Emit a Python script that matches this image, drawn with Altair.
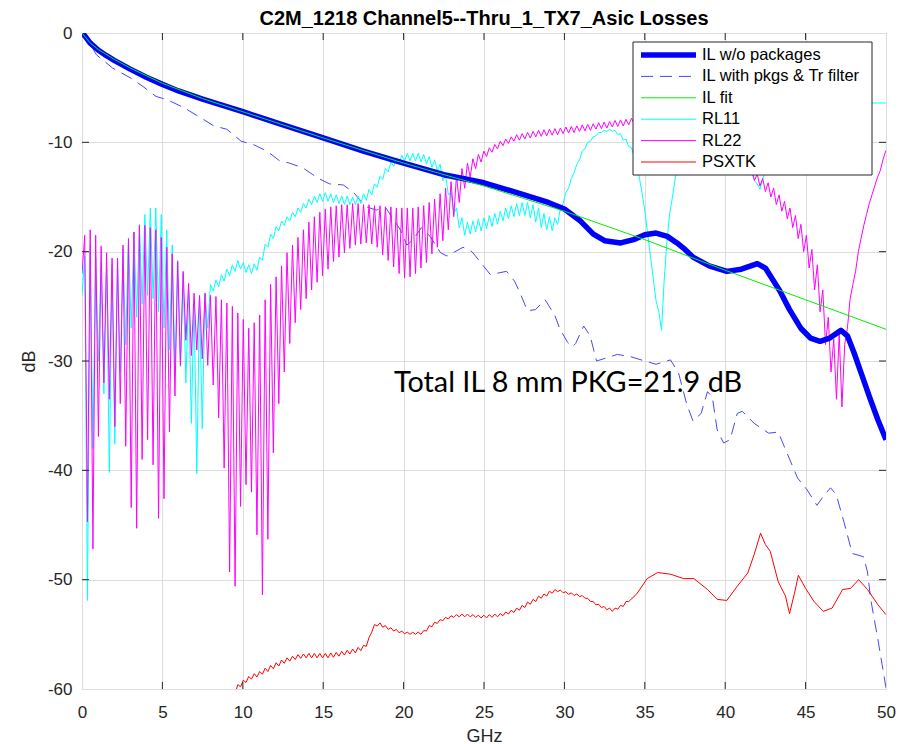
import altair as alt
import pandas as pd

FONT = "Liberation Sans"
NOTE_FONT = "Lato"
INK = "#262626"

TITLE = "C2M_1218 Channel5--Thru_1_TX7_Asic Losses"
NOTE = "Total IL 8 mm PKG=21.9 dB"
NOTE_GHZ = [19.4]
NOTE_DB = [-32.8]

X_TICKS = [0, 5, 10, 15, 20, 25, 30, 35, 40, 45, 50]
Y_TICKS = [-60, -50, -40, -30, -20, -10, 0]

LEGEND_LABELS = ["IL w/o packages", "IL with pkgs & Tr filter", "IL fit",
                 "RL11", "RL22", "PSXTK"]

# ---- insertion loss without packages ----
IL_GHZ = [0, 0.2, 0.5, 1, 1.5, 2, 3, 4, 5, 6, 7.5, 10, 12.5, 15, 17.5, 20, 22.5,
          24, 25, 27.5, 29, 30, 31, 31.8, 32.5, 33.5, 34.3, 35, 35.7, 36.4, 37,
          37.5, 38, 39, 40.1, 41, 42, 42.5, 43.4, 44, 44.7, 45.3, 45.9, 46.5,
          47.2, 47.6, 48, 48.5, 49, 49.5, 50]
IL_DB = [0, -0.3, -0.9, -1.55, -2.05, -2.5, -3.3, -4.05, -4.7, -5.3, -6.05, -7.2,
         -8.4, -9.6, -10.8, -11.9, -12.96, -13.4, -13.7, -14.8, -15.5, -16.1,
         -17.2, -18.4, -19.0, -19.2, -18.9, -18.45, -18.3, -18.6, -19.2, -19.8,
         -20.5, -21.3, -21.8, -21.6, -21.1, -21.5, -23.6, -25.3, -27.0, -27.9,
         -28.2, -27.9, -27.2, -27.7, -29.2, -31.3, -33.4, -35.4, -37.2]

# ---- insertion loss with packages and Tr filter ----
PKG_GHZ = [0, 0.5, 0.9, 1.9, 3.0, 3.8, 4.6, 5.3, 6.3, 7.1, 8.2, 9.0, 9.9, 10.65,
           11.5, 12.3, 12.9, 13.75, 14.7, 15.4, 16.25, 16.9, 17.3, 17.7, 18.3,
           18.85, 19.4, 19.8, 20.2, 20.6, 21.1, 21.65, 22.3, 22.7, 23.7, 24.25,
           24.8, 25.4, 26.4, 26.9, 27.25, 27.7, 28.2, 28.8, 29.4, 29.7, 30.2,
           30.5, 30.7, 31.2, 31.6, 32.0, 33.3, 34.1, 35.0, 35.7, 36.6, 37.1,
           37.6, 38.0, 38.5, 38.9, 39.2, 39.5, 39.9, 40.3, 40.75, 41.06, 41.8,
           42.7, 43.3, 43.75, 44.5, 45.1, 45.7, 46.2, 46.55, 46.9, 47.4, 47.9,
           48.6, 48.85, 49.05, 49.5, 50]
PKG_DB = [0, -1.0, -2.0, -3.2, -4.1, -4.9, -5.8, -6.1, -6.8, -7.5, -8.5, -8.8,
          -9.9, -10.2, -10.8, -11.7, -11.9, -12.35, -13.3, -13.8, -13.9, -14.6,
          -15.3, -15.9, -16.2, -15.9, -17.1, -18.0, -19.4, -18.9, -17.8, -18.6,
          -20.1, -20.4, -19.6, -20.0, -21.0, -22.1, -21.8, -22.7, -23.8, -25.4,
          -25.3, -24.4, -25.8, -27.0, -28.3, -28.7, -28.4, -26.8, -27.7, -30.0,
          -29.4, -29.6, -30.0, -30.3, -29.9, -31.1, -33.9, -35.5, -34.8, -32.8,
          -33.3, -36.3, -37.5, -37.2, -34.8, -34.6, -35.7, -36.6, -36.5, -38.1,
          -40.7, -41.8, -43.2, -42.2, -41.6, -42.2, -44.8, -47.6, -47.9, -49.3,
          -51.8, -55.5, -59.9]

# ---- fitted insertion loss ----
FIT_GHZ = [0, 0.5, 1, 2, 3, 5, 7.5, 10, 15, 20, 25, 30, 35, 40, 45, 50]
FIT_DB = [0, -0.9, -1.5, -2.4, -3.2, -4.6, -6.0, -7.2, -9.6, -11.9, -14.0,
          -16.3, -18.9, -21.7, -24.4, -27.1]

# ---- ripple grid: troughs at 0.34*j GHz, peaks at 0.34*j + 0.17 GHz ----
HALF_STEP = 0.17

# power-sum crosstalk: rippled part on the grid from j = 28 (9.52 GHz) to j = 100 (34 GHz)
XTK_FIRST_J = 28
XTK_TROUGH = [
    -60.4, -59.8, -59.4, -59.1, -58.9, -58.65, -58.4, -58.15, -57.9, -57.65,
    -57.45, -57.3, -57.2, -57.15, -57.15, -57.15, -57.15, -57.15, -57.1, -57.0,
    -56.9, -56.8, -56.7, -56.5, -56.1, -54.8, -54.25, -54.35, -54.55, -54.7,
    -54.85, -54.95, -55.0, -55.0, -55.0, -54.7, -54.3, -54.0, -53.75, -53.6,
    -53.45, -53.4, -53.4, -53.4, -53.45, -53.5, -53.5, -53.45, -53.4, -53.3,
    -53.15, -53.0, -52.8, -52.55, -52.25, -52.0, -51.7, -51.5, -51.25, -51.1,
    -51.2, -51.35, -51.45, -51.55, -51.7, -52.0, -52.3, -52.55, -52.75, -52.9,
    -52.7, -52.45, -52.0,
]
XTK_PEAK = [
    -59.6, -59.2, -58.85, -58.6, -58.4, -58.1, -57.85, -57.6, -57.35, -57.15,
    -57.0, -56.85, -56.8, -56.75, -56.75, -56.75, -56.75, -56.7, -56.65, -56.55,
    -56.45, -56.35, -56.2, -56.0, -55.3, -54.1, -53.95, -54.2, -54.4, -54.55,
    -54.7, -54.8, -54.8, -54.8, -54.65, -54.2, -53.9, -53.65, -53.45, -53.3,
    -53.2, -53.15, -53.15, -53.2, -53.25, -53.25, -53.2, -53.15, -53.1, -52.95,
    -52.8, -52.6, -52.35, -52.05, -51.8, -51.5, -51.3, -51.05, -50.9, -50.95,
    -51.1, -51.2, -51.3, -51.45, -51.7, -52.0, -52.25, -52.45, -52.6, -52.6,
    -52.35, -52.0,
]
# smooth tail above 34 GHz
XTK_GHZ = [34.5, 35.15, 35.8, 36.6, 37.4, 38.05, 38.9, 39.5, 40.1, 40.75, 41.4,
           41.8, 42.2, 42.5, 42.8, 43.3, 43.75, 44.0, 44.3, 44.55, 45.0, 45.5,
           46.1, 46.65, 47.3, 47.8, 48.3, 48.85, 49.5, 50]
XTK_DB = [-51.3, -49.9, -49.35, -49.5, -49.9, -49.9, -50.9, -51.8, -51.9, -50.6,
          -49.4, -47.7, -45.75, -46.8, -47.4, -50.2, -51.5, -53.1, -51.3, -49.6,
          -50.8, -51.95, -52.9, -52.6, -50.9, -50.8, -50.0, -50.9, -52.3, -53.2]

# return losses on the same grid, starting at 0 GHz
RL22_TROUGH = [
    -22.0, -44.7, -47.2, -36.9, -32.0, -33.5, -36.0, -33.9, -37.8, -43.4,
    -45.3, -39.0, -37.2, -39.5, -44.4, -42.6, -36.5, -33.2, -30.4, -28.1,
    -29.5, -29.0, -29.8, -30.4, -32.2, -35.2, -39.8, -49.3, -50.6, -43.3,
    -41.3, -42.0, -45.9, -51.4, -46.3, -38.4, -33.9, -31.0, -28.4, -26.5,
    -25.3, -24.3, -23.5, -22.8, -22.2, -21.6, -20.9, -20.5, -20.1, -19.7,
    -19.4, -19.3, -19.2, -19.3, -19.6, -20.3, -20.8, -21.4, -22.0, -22.4,
    -22.3, -22.0, -21.5, -21.0, -20.2, -19.6, -19.0, -18.0, -16.8, -15.5,
    -14.2, -13.2, -12.4, -11.8, -11.3, -10.9, -10.6, -10.3, -10.1, -9.9,
    -9.8, -9.7, -9.6, -9.5, -9.45, -9.4, -9.35, -9.3, -9.2, -9.15,
    -9.1, -9.0, -8.95, -8.9, -8.8, -8.75, -8.7, -8.6, -8.55, -8.5,
    -8.4, -8.3, -8.2, -8.1, -8.0, -8.0, -8.0, -8.1, -8.2, -8.4,
    -8.6, -8.8, -9.1, -9.4, -9.7, -10.0, -10.4, -10.8, -11.2, -11.6,
    -12.0, -12.5, -13.0, -13.5, -14.0, -14.5, -15.0, -15.7, -16.3, -17.0,
    -17.8, -18.8, -20.0, -21.5, -23.5, -25.5, -28.5, -31.0, -33.5, -34.2,
    -27.0, -23.0, -20.0, -17.6, -15.6, -14.0, -12.6, -10.8,
]
RL22_PEAK = [
    -18.5, -18.0, -18.5, -19.5, -20.1, -20.6, -20.6, -19.4, -18.8, -18.2,
    -17.6, -17.6, -17.8, -18.0, -18.7, -19.6, -20.2, -20.9, -21.8, -22.9,
    -23.8, -24.0, -23.8, -24.0, -24.1, -24.4, -24.7, -25.0, -25.6, -26.2,
    -27.0, -26.5, -25.8, -24.4, -23.0, -22.3, -21.3, -20.1, -19.4, -18.7,
    -18.0, -17.3, -16.8, -16.4, -16.1, -15.9, -15.8, -15.7, -15.7, -15.6,
    -15.6, -15.7, -15.7, -15.8, -15.8, -15.9, -15.9, -16.0, -16.0, -16.0,
    -16.0, -15.9, -15.8, -15.5, -15.2, -14.7, -14.2, -13.6, -13.0, -12.4,
    -11.9, -11.5, -11.1, -10.8, -10.5, -10.2, -9.9, -9.7, -9.5, -9.3,
    -9.2, -9.1, -9.0, -8.9, -8.85, -8.8, -8.75, -8.7, -8.6, -8.55,
    -8.5, -8.4, -8.35, -8.3, -8.2, -8.15, -8.1, -8.0, -7.95, -7.9,
    -7.8, -7.7, -7.6, -7.5, -7.4, -7.4, -7.4, -7.5, -7.6, -7.8,
    -8.0, -8.2, -8.5, -8.8, -9.1, -9.4, -9.8, -10.2, -10.6, -11.0,
    -11.4, -11.9, -12.4, -12.9, -13.3, -13.7, -14.2, -14.8, -15.4, -16.0,
    -16.7, -17.5, -18.5, -19.8, -21.2, -23.5, -26.0, -28.0, -27.5, -28.5,
    -24.3, -21.8, -18.8, -16.6, -14.8, -13.2, -11.6, -10.5,
]
RL11_TROUGH = [
    -24.0, -51.9, -38.0, -30.0, -33.0, -40.2, -37.6, -31.0, -28.5, -27.0,
    -26.0, -24.8, -24.0, -24.3, -25.5, -27.0, -29.0, -31.0, -30.5, -32.0,
    -35.7, -40.3, -36.2, -27.0, -23.6, -23.2, -22.7, -22.2, -21.8, -21.6,
    -21.9, -22.0, -21.7, -20.8, -19.6, -18.8, -18.1, -17.6, -17.2, -16.8,
    -16.4, -16.0, -15.7, -15.5, -15.4, -15.4, -15.5, -15.6, -15.7, -15.7,
    -15.7, -15.6, -15.3, -14.8, -14.1, -13.4, -12.7, -12.2, -11.9, -11.7,
    -11.7, -11.7, -11.8, -12.0, -12.3, -12.6, -13.5, -14.8, -16.5, -17.8,
    -18.5, -18.4, -18.2, -18.1, -17.9, -17.7, -17.5, -17.2, -17.0, -16.8,
    -16.7, -16.7, -16.9, -17.3, -17.8, -18.0, -18.1, -17.5, -15.6, -14.2,
    -12.8, -11.6, -10.6, -9.9, -9.4, -9.1, -9.0, -9.0, -9.3, -9.8,
    -10.4, -11.3, -13.4, -16.5, -20.5, -24.5, -27.2, -19.0, -15.0, -12.2,
    -10.4, -9.7, -9.3, -9.1, -9.0, -8.9, -9.0, -9.1, -9.4, -9.8,
    -10.3, -11.1, -12.2, -13.5, -14.3, -12.6, -11.2, -10.0, -9.1, -8.5,
    -8.0, -7.7, -7.4, -7.1, -7.0, -6.9, -6.8, -6.7, -6.6, -6.6,
    -6.5, -6.5, -6.5, -6.4, -6.4, -6.4, -6.4, -6.4,
]
RL11_PEAK = [
    -20.4, -19.5, -20.5, -21.0, -21.4, -21.2, -20.8, -19.8, -18.8, -18.2,
    -17.5, -16.6, -16.0, -16.0, -16.6, -18.0, -19.4, -20.8, -22.0, -23.5,
    -24.4, -24.3, -23.8, -23.0, -22.6, -22.1, -21.6, -21.2, -20.8, -21.0,
    -21.2, -21.1, -20.5, -19.3, -18.4, -17.7, -17.2, -16.8, -16.4, -16.0,
    -15.6, -15.2, -14.9, -14.7, -14.6, -14.7, -14.8, -14.9, -14.9, -15.0,
    -14.9, -14.7, -14.3, -13.8, -13.1, -12.4, -11.8, -11.4, -11.2, -11.0,
    -11.0, -11.0, -11.1, -11.3, -11.6, -12.0, -13.0, -14.6, -16.0, -16.9,
    -17.3, -17.2, -17.0, -16.9, -16.7, -16.5, -16.3, -16.0, -15.8, -15.6,
    -15.5, -15.5, -15.7, -16.0, -16.5, -16.8, -16.9, -16.0, -14.6, -13.3,
    -12.0, -10.8, -10.0, -9.5, -9.1, -8.9, -8.8, -8.9, -9.2, -9.7,
    -10.5, -12.0, -14.8, -18.5, -22.5, -25.5, -22.5, -16.5, -13.3, -11.0,
    -10.0, -9.5, -9.2, -9.0, -8.9, -8.9, -9.0, -9.2, -9.5, -10.0,
    -10.7, -11.6, -12.8, -13.8, -13.4, -11.8, -10.5, -9.5, -8.8, -8.2,
    -7.8, -7.5, -7.2, -7.0, -6.9, -6.8, -6.7, -6.6, -6.6, -6.5,
    -6.5, -6.5, -6.4, -6.4, -6.4, -6.4, -6.4, -6.4,
]


def trace(ghz, db):
    return pd.DataFrame({"ghz": ghz, "db": db})


def ripple_trace(troughs, peaks, first_j=0):
    """Interleave troughs and peaks along the half-period frequency grid."""
    ghz, db = [], []
    for i, lo in enumerate(troughs):
        j = first_j + i
        ghz.append(round(2 * j * HALF_STEP, 3))
        db.append(lo)
        if i < len(peaks):
            ghz.append(round((2 * j + 1) * HALF_STEP, 3))
            db.append(peaks[i])
    return trace(ghz, db)


X = alt.X("ghz:Q", title="GHz",
          scale=alt.Scale(domain=[0, 50], nice=False, zero=False),
          axis=alt.Axis(values=X_TICKS, grid=True, ticks=False, domain=False,
                        labelFont=FONT, labelFontSize=17, labelColor=INK,
                        labelPadding=15, labelFlush=False,
                        labelExpr="datum.value + ''",
                        titleFont=FONT, titleFontSize=18, titleFontWeight="normal",
                        titleColor=INK, titlePadding=7,
                        gridColor="#dddddd", gridWidth=1))
Y = alt.Y("db:Q", title="dB",
          scale=alt.Scale(domain=[-60, 0], nice=False, zero=False),
          axis=alt.Axis(values=Y_TICKS, grid=True, ticks=False, domain=False,
                        labelFont=FONT, labelFontSize=17, labelColor=INK,
                        labelPadding=10, labelExpr="datum.value + ''",
                        titleFont=FONT, titleFontSize=18, titleFontWeight="normal",
                        titleColor=INK, titlePadding=9,
                        gridColor="#dddddd", gridWidth=1))


def line(df, color, width, dash=None):
    props = dict(color=color, strokeWidth=width, clip=True, strokeJoin="round")
    if dash:
        props["strokeDash"] = dash
    return alt.Chart(df).mark_line(**props).encode(x=X, y=Y)


STYLE = {
    "IL w/o packages": dict(color="#0000ff", width=5.5),
    "IL with pkgs & Tr filter": dict(color="#4646ff", width=1, dash=[12, 7]),
    "IL fit": dict(color="#00ee00", width=1),
    "RL11": dict(color="#00ffff", width=1),
    "RL22": dict(color="#ff00ff", width=1),
    "PSXTK": dict(color="#ff0000", width=1),
}

xtk = pd.concat([ripple_trace(XTK_TROUGH, XTK_PEAK, XTK_FIRST_J),
                 trace(XTK_GHZ, XTK_DB)], ignore_index=True)

layers = [
    line(trace(PKG_GHZ, PKG_DB), **STYLE["IL with pkgs & Tr filter"]),
    line(ripple_trace(RL11_TROUGH, RL11_PEAK), **STYLE["RL11"]),
    line(ripple_trace(RL22_TROUGH, RL22_PEAK), **STYLE["RL22"]),
    line(xtk, **STYLE["PSXTK"]),
    line(trace(IL_GHZ, IL_DB), **STYLE["IL w/o packages"]),
    line(trace(FIT_GHZ, FIT_DB), **STYLE["IL fit"]),
]

# annotation
note_df = pd.DataFrame({"ghz": NOTE_GHZ, "db": NOTE_DB, "t": [NOTE]})
layers.append(alt.Chart(note_df).mark_text(
    align="left", baseline="alphabetic", font=NOTE_FONT, fontSize=28.8,
    color="black").encode(x=X, y=Y, text="t:N"))

# inward tick marks on all four sides of the box
PLOT_W, PLOT_H, TICK = 804, 656, 7
xt = pd.DataFrame({"ghz": X_TICKS[1:-1]})
yt = pd.DataFrame({"db": Y_TICKS[1:-1]})
layers += [
    alt.Chart(xt).mark_rule(color=INK).encode(
        x=X, y=alt.value(PLOT_H), y2=alt.value(PLOT_H - TICK)),
    alt.Chart(xt).mark_rule(color=INK).encode(
        x=X, y=alt.value(0), y2=alt.value(TICK)),
    alt.Chart(yt).mark_rule(color=INK).encode(
        y=Y, x=alt.value(0), x2=alt.value(TICK)),
    alt.Chart(yt).mark_rule(color=INK).encode(
        y=Y, x=alt.value(PLOT_W), x2=alt.value(PLOT_W - TICK)),
]

# legend box
one = pd.DataFrame({"k": [0]})
LEG_L, LEG_R, LEG_T, LEG_B = 551, 790, 9, 142
ROW0, ROW_STEP = 22, 21.4
layers.append(alt.Chart(one).mark_rect(fill="white", stroke=INK, strokeWidth=1).encode(
    x=alt.value(LEG_L), x2=alt.value(LEG_R), y=alt.value(LEG_T), y2=alt.value(LEG_B)))
for i, name in enumerate(LEGEND_LABELS):
    st = STYLE[name]
    yy = ROW0 + ROW_STEP * i
    rule_props = dict(color=st["color"], strokeWidth=st["width"])
    if st.get("dash"):
        rule_props["strokeDash"] = st["dash"]
    layers.append(alt.Chart(one).mark_rule(**rule_props).encode(
        x=alt.value(559), x2=alt.value(614), y=alt.value(yy)))
    layers.append(alt.Chart(one).mark_text(
        align="left", baseline="middle", font=FONT, fontSize=16.5, color="black"
    ).encode(x=alt.value(620), y=alt.value(yy), text=alt.value(name)))

chart = alt.layer(*layers).properties(
    width=PLOT_W, height=PLOT_H,
    title=alt.TitleParams(TITLE, font=FONT, fontSize=20, fontWeight="bold",
                          color="black", anchor="middle", offset=-5),
    autosize=alt.AutoSizeParams(type="none"),
    padding={"left": 82, "top": 33, "right": 13, "bottom": 55},
).configure_view(stroke=INK, strokeWidth=1).configure(background="white")

chart.save("out.html", embed_options={"renderer": "svg", "actions": False})
